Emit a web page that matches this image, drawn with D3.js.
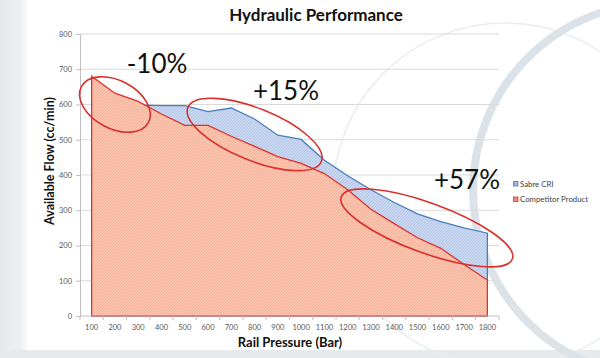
<!DOCTYPE html>
<html><head><meta charset="utf-8">
<script src="https://cdn.jsdelivr.net/npm/d3@7"></script>
<style>
html,body{margin:0;padding:0;background:#fff;}
svg{display:block;}
text{font-family:Lato,"Open Sans",sans-serif;}
</style></head>
<body>
<svg id="chart" width="600" height="358"></svg>
<script>
const categories = [100,200,300,400,500,600,700,800,900,1000,1100,1200,1300,1400,1500,1600,1700,1800];
const sabreCRI   = [600,600,598,597,597,580,590,559,513,501,442,398,358,322,290,268,250,235];
const competitor = [680,632,609,573,541,541,510,481,452,433,404,358,303,262,222,192,146,102];
const yTicks = [0,100,200,300,400,500,600,700,800];
const seriesNames = ["Sabre CRI","Competitor Product"];
const annotations = [
  {text:"-10%", cx:200, cy:600, rx:38, ry:24, rot:28},
  {text:"+15%", cx:800, cy:515, rx:72, ry:26, rot:22},
  {text:"+57%", cx:1540, cy:250, rx:91, ry:25, rot:20}
];

(function(){
const svg = d3.select("#chart");
const W = 600, H = 358;
const pLeft = 80, pRight = 499, pTop = 34, pBottom = 316;

const defs = svg.append("defs");
const lg = defs.append("linearGradient").attr("id","lband").attr("x1","0").attr("x2","1");
lg.append("stop").attr("offset","0").attr("stop-color","#e3e8ec");
lg.append("stop").attr("offset","0.7").attr("stop-color","#eef1f3");
lg.append("stop").attr("offset","1").attr("stop-color","#ffffff");
svg.append("rect").attr("x",0).attr("y",0).attr("width",30).attr("height",H).attr("fill","url(#lband)");
svg.append("rect").attr("x",0).attr("y",350).attr("width",W).attr("height",8).attr("fill","#e6eaed");
svg.append("circle").attr("cx",505).attr("cy",195).attr("r",172).attr("fill","none").attr("stroke","#e9edf0").attr("stroke-width",1.5);
svg.append("circle").attr("cx",660).attr("cy",190).attr("r",187).attr("fill","none").attr("stroke","#dbe3e9").attr("stroke-width",8);

function hatch(id, base, line){
  const p = defs.append("pattern").attr("id",id).attr("patternUnits","userSpaceOnUse").attr("width",3).attr("height",3);
  p.append("rect").attr("width",3).attr("height",3).attr("fill",base);
  p.append("path").attr("d","M0,3 L3,0").attr("stroke",line).attr("stroke-width",0.6);
}
hatch("redHatch","#f9c3ae","#f2a890");
hatch("blueHatch","#c9d6ef","#aabfe4");

const x = d3.scalePoint().domain(categories).range([pLeft,pRight]).padding(0.5);
const y = d3.scaleLinear().domain([0,800]).range([pBottom,pTop]);
const step = x.step();
const xAt = v => x(categories[0]) + (v - categories[0]) / (categories[1]-categories[0]) * step;

svg.append("g").selectAll("line").data(yTicks.filter(d=>d>0)).join("line")
  .attr("x1",pLeft).attr("x2",pRight).attr("y1",d=>y(d)).attr("y2",d=>y(d))
  .attr("stroke","#d9d9d9").attr("stroke-width",1);

const areaGen = vals => d3.area().x((d,i)=>x(categories[i])).y0(y(0)).y1(d=>y(d))(vals);
svg.append("path").attr("d",areaGen(sabreCRI)+"Z").attr("fill","url(#blueHatch)").attr("stroke","#4a7ebb").attr("stroke-width",1.3);
svg.append("path").attr("d",areaGen(competitor)+"Z").attr("fill","url(#redHatch)").attr("stroke","#e0312b").attr("stroke-width",1.3);

const yAxis = d3.axisLeft(y).tickValues(yTicks).tickSize(4).tickPadding(4);
const gy = svg.append("g").attr("transform",`translate(${pLeft},0)`).call(yAxis);
gy.select(".domain").attr("stroke","#bfbfbf");
gy.selectAll(".tick line").attr("stroke","#bfbfbf");
gy.selectAll("text").attr("font-size",7.5).attr("fill","#595959").attr("font-family","Lato");

const gx = svg.append("g").attr("transform",`translate(0,${pBottom})`);
gx.append("line").attr("x1",pLeft).attr("x2",pRight).attr("stroke","#bfbfbf");
gx.selectAll("line.tk").data(d3.range(categories.length+1)).join("line").attr("class","tk")
  .attr("x1",i=>pLeft+i*step).attr("x2",i=>pLeft+i*step).attr("y1",0).attr("y2",4).attr("stroke","#bfbfbf");
gx.selectAll("text").data(categories).join("text")
  .attr("x",d=>x(d)).attr("y",14).attr("text-anchor","middle")
  .attr("font-size",7.5).attr("fill","#595959").text(d=>d);

svg.append("text").attr("x",316).attr("y",21).attr("text-anchor","middle")
  .attr("font-size",17).attr("font-weight","bold").attr("fill","#111").text("Hydraulic Performance");
svg.append("text").attr("x",290).attr("y",347).attr("text-anchor","middle")
  .attr("font-size",13).attr("font-weight","bold").attr("fill","#111").text("Rail Pressure (Bar)");
svg.append("text").attr("transform","translate(54,161) rotate(-90)").attr("text-anchor","middle")
  .attr("font-size",12.5).attr("font-weight","bold").attr("fill","#111").text("Available Flow (cc/min)");

const legColors = [["#4f81bd","#9db9e0"],["#e0312b","#f08a78"]];
seriesNames.forEach((n,i)=>{
  const ly = 184 + i*15.5;
  svg.append("rect").attr("x",513.5).attr("y",ly-2.5).attr("width",4.5).attr("height",4.5)
    .attr("fill",legColors[i][1]).attr("stroke",legColors[i][0]).attr("stroke-width",0.8);
  svg.append("text").attr("x",520).attr("y",ly+2.6).attr("font-size",7.8).attr("fill","#404040").text(n);
});

annotations.forEach(a=>{
  const ex = xAt(a.cx), ey = y(a.cy);
  svg.append("ellipse").attr("cx",ex).attr("cy",ey).attr("rx",a.rx).attr("ry",a.ry)
    .attr("transform",`rotate(${a.rot},${ex},${ey})`)
    .attr("fill","none").attr("stroke","#d9302c").attr("stroke-width",1.6);
});
const annPos = [[157,73],[286,100],[467,189]];
annotations.forEach((a,i)=>{
  svg.append("text").attr("x",annPos[i][0]).attr("y",annPos[i][1]).attr("text-anchor","middle")
    .attr("font-size",26).attr("fill","#111").text(a.text);
});
})();
</script>
</body></html>
